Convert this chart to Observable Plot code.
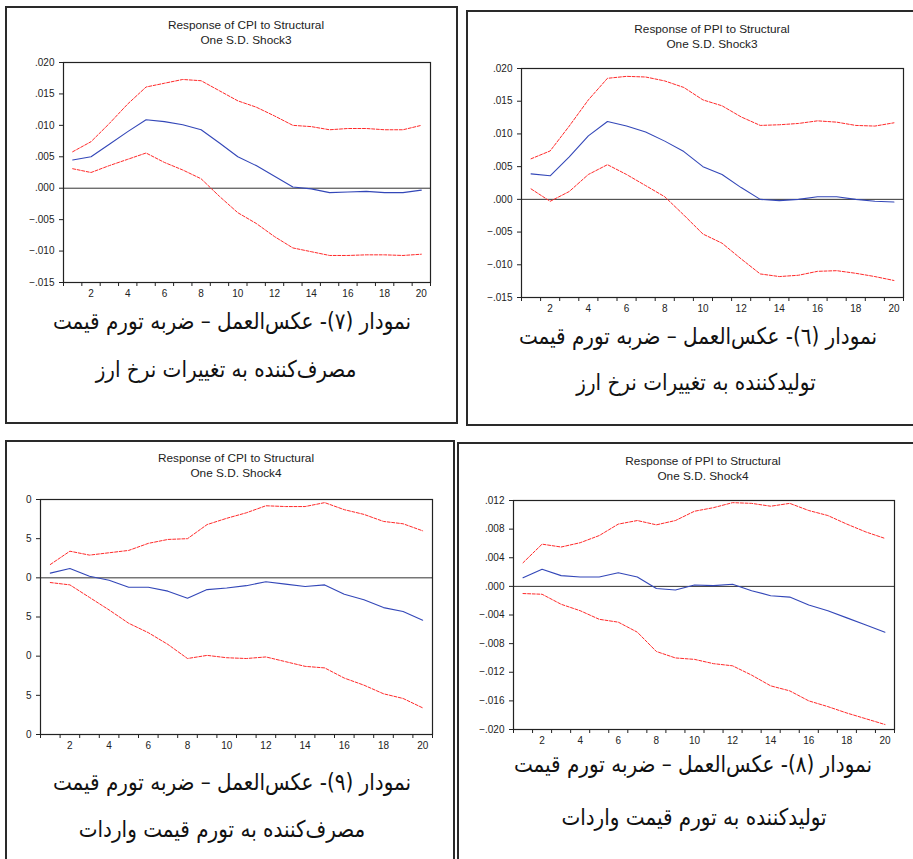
<!DOCTYPE html>
<html><head><meta charset="utf-8">
<script src="https://cdn.jsdelivr.net/npm/d3@7"></script>
<script src="https://cdn.jsdelivr.net/npm/@observablehq/plot@0.6"></script>
<style>
body{margin:0;background:#fff}
#page{position:relative;width:913px;height:859px;overflow:hidden;background:#fff}
.box{position:absolute;box-sizing:border-box;border:2px solid #2a2a2a}
.title{position:absolute;font-family:"Liberation Sans",Arial,sans-serif;font-size:11.8px;line-height:14.5px;color:#222;text-align:center;white-space:nowrap;transform:translateX(-50%)}
.cap{position:absolute;font-family:"DejaVu Sans",sans-serif;direction:rtl;white-space:nowrap;color:#111;line-height:1}
</style></head>
<body><div id="page"></div>
<script>
// ---------- data ----------
const periods = [1,2,3,4,5,6,7,8,9,10,11,12,13,14,15,16,17,18,19,20];

const cpiShock3Resp  = [0.0045,0.0050,0.0070,0.0090,0.0109,0.0106,0.0101,0.0093,0.0072,0.0050,0.0036,0.0019,0.0002,-0.0001,-0.0007,-0.0006,-0.0005,-0.0007,-0.0007,-0.0003];
const cpiShock3Upper = [0.0058,0.0074,0.0103,0.0134,0.0161,0.0167,0.0173,0.0171,0.0155,0.0139,0.0129,0.0115,0.0100,0.0098,0.0093,0.0095,0.0095,0.0093,0.0093,0.0100];
const cpiShock3Lower = [0.0031,0.0025,0.0036,0.0046,0.0056,0.0041,0.0029,0.0015,-0.0013,-0.0039,-0.0056,-0.0077,-0.0095,-0.0101,-0.0107,-0.0107,-0.0106,-0.0106,-0.0107,-0.0105];

const ppiShock3Resp  = [0.0039,0.0036,0.0065,0.0097,0.0119,0.0112,0.0103,0.0089,0.0073,0.0050,0.0038,0.0018,0.0000,-0.0002,0.0000,0.0004,0.0004,0.0000,-0.0003,-0.0004];
const ppiShock3Upper = [0.0062,0.0074,0.0112,0.0152,0.0185,0.0188,0.0187,0.0181,0.0171,0.0152,0.0143,0.0126,0.0113,0.0114,0.0116,0.0120,0.0118,0.0113,0.0112,0.0117];
const ppiShock3Lower = [0.0016,-0.0003,0.0012,0.0038,0.0053,0.0038,0.0021,0.0004,-0.0024,-0.0053,-0.0067,-0.0091,-0.0114,-0.0118,-0.0116,-0.0110,-0.0109,-0.0113,-0.0118,-0.0124];

const cpiShock4Resp  = [0.0006,0.0012,0.0002,-0.0003,-0.0012,-0.0012,-0.0017,-0.0026,-0.0015,-0.0013,-0.0010,-0.0005,-0.0008,-0.0011,-0.0009,-0.0021,-0.0028,-0.0038,-0.0043,-0.0054];
const cpiShock4Upper = [0.0017,0.0034,0.0029,0.0032,0.0035,0.0044,0.0049,0.0050,0.0068,0.0076,0.0083,0.0092,0.0091,0.0091,0.0096,0.0087,0.0081,0.0072,0.0069,0.0060];
const cpiShock4Lower = [-0.0006,-0.0009,-0.0025,-0.0041,-0.0058,-0.0070,-0.0085,-0.0103,-0.0099,-0.0102,-0.0103,-0.0101,-0.0107,-0.0113,-0.0115,-0.0128,-0.0137,-0.0148,-0.0154,-0.0166];

const ppiShock4Resp  = [0.0012,0.0024,0.0015,0.0013,0.0013,0.0019,0.0013,-0.0003,-0.0005,0.0002,0.0001,0.0003,-0.0006,-0.0013,-0.0015,-0.0026,-0.0034,-0.0044,-0.0054,-0.0064];
const ppiShock4Upper = [0.0033,0.0059,0.0055,0.0061,0.0071,0.0087,0.0092,0.0086,0.0092,0.0105,0.0110,0.0117,0.0116,0.0112,0.0116,0.0106,0.0099,0.0087,0.0076,0.0067];
const ppiShock4Lower = [-0.0010,-0.0011,-0.0025,-0.0034,-0.0046,-0.0050,-0.0064,-0.0091,-0.0100,-0.0102,-0.0108,-0.0111,-0.0124,-0.0139,-0.0146,-0.0160,-0.0168,-0.0177,-0.0185,-0.0193];

const xLabelTicks = [2,4,6,8,10,12,14,16,18,20];
const xTickMarks = [0.5,1.5,2.5,3.5,4.5,5.5,6.5,7.5,8.5,9.5,10.5,11.5,12.5,13.5,14.5,15.5,16.5,17.5,18.5,19.5,20.5];
const yTicksShock3 = [-0.015,-0.010,-0.005,0,0.005,0.010,0.015,0.020];
const yTicksCpi4 = [-0.020,-0.015,-0.010,-0.005,0,0.005,0.010];
const yLabelsCpi4 = ["0","5","0","5","0","5","0"]; // labels as they appear (clipped)
const yTicksPpi4 = [-0.020,-0.016,-0.012,-0.008,-0.004,0,0.004,0.008,0.012];

const titles = [
  ["Response of CPI to Structural","One S.D. Shock3"],
  ["Response of PPI to Structural","One S.D. Shock3"],
  ["Response of CPI to Structural","One S.D. Shock4"],
  ["Response of PPI to Structural","One S.D. Shock4"]
];
const captions = [
  ["نمودار (۷)- عکس\u200cالعمل – ضربه تورم قیمت","مصرف\u200cکننده به تغییرات نرخ ارز"],
  ["نمودار (٦)- عکس\u200cالعمل – ضربه تورم قیمت","تولیدکننده به تغییرات نرخ ارز"],
  ["نمودار (۹)- عکس\u200cالعمل – ضربه تورم قیمت","مصرف\u200cکننده به تورم قیمت واردات"],
  ["نمودار (۸)- عکس\u200cالعمل – ضربه تورم قیمت","تولیدکننده به تورم قیمت واردات"]
];

// ---------- layout ----------
const page = document.getElementById("page");
const boxes = [[5,6,453,418],[466,10,470,416],[5,440,450,440],[457,442,470,440]];
boxes.forEach(([l,t,w,h])=>{
  const d=document.createElement("div");d.className="box";
  Object.assign(d.style,{left:l+"px",top:t+"px",width:w+"px",height:h+"px"});
  page.appendChild(d);
});

const fmt3 = d => d3.format(".3f")(d).replace("0.", ".");

function makeChart({frame, yDomain, yTicks, yFormat, resp, upper, lower}) {
  const [fl, ft, fr, fb] = frame;
  const ml = 60, mr = 12, mt = 10, mb = 28;
  const rows = periods.map((p,i)=>({p, resp:resp[i], upper:upper[i], lower:lower[i]}));
  const svg = Plot.plot({
    width: fr-fl+ml+mr, height: fb-ft+mt+mb,
    marginLeft: ml, marginRight: mr, marginTop: mt, marginBottom: mb,
    style: {background:"transparent", fontFamily:'"Liberation Sans", Arial, sans-serif', fontSize:"10px", color:"#222", overflow:"visible"},
    x: {domain:[0.5,20.5]},
    y: {domain: yDomain},
    marks: [
      Plot.ruleY([0], {stroke:"#333", strokeWidth:1}),
      Plot.line(rows, {x:"p", y:"upper", stroke:"#ff2a2a", strokeWidth:1, strokeDasharray:"3,1.6"}),
      Plot.line(rows, {x:"p", y:"lower", stroke:"#ff2a2a", strokeWidth:1, strokeDasharray:"3,1.6"}),
      Plot.line(rows, {x:"p", y:"resp", stroke:"#3347b8", strokeWidth:1.1}),
      Plot.frame({stroke:"#222", strokeWidth:1.2}),
      Plot.axisY({ticks:yTicks, tickSize:4, tickPadding:5, tickFormat:yFormat, label:null, stroke:"#222"}),
      Plot.axisX({ticks:xTickMarks, tickSize:4, tickFormat:()=>"", label:null, stroke:"#222"}),
      Plot.axisX({ticks:xLabelTicks, tickSize:0, tickPadding:7, label:null})
    ]
  });
  svg.style.position="absolute"; svg.style.left=(fl-ml)+"px"; svg.style.top=(ft-mt)+"px";
  svg.style.maxWidth="none";
  page.appendChild(svg);
}

makeChart({frame:[63,62,430,282], yDomain:[-0.015,0.020], yTicks:yTicksShock3, yFormat:fmt3,
  resp:cpiShock3Resp, upper:cpiShock3Upper, lower:cpiShock3Lower});
makeChart({frame:[521,68,903,297], yDomain:[-0.015,0.020], yTicks:yTicksShock3, yFormat:fmt3,
  resp:ppiShock3Resp, upper:ppiShock3Upper, lower:ppiShock3Lower});
makeChart({frame:[40,499,432,734], yDomain:[-0.020,0.010], yTicks:yTicksCpi4,
  yFormat:d => yLabelsCpi4[yTicksCpi4.findIndex(v=>Math.abs(v-d)<1e-9)],
  resp:cpiShock4Resp, upper:cpiShock4Upper, lower:cpiShock4Lower});
makeChart({frame:[513,500,894,729], yDomain:[-0.020,0.012], yTicks:yTicksPpi4, yFormat:fmt3,
  resp:ppiShock4Resp, upper:ppiShock4Upper, lower:ppiShock4Lower});

// titles
const titlePos = [[246,18],[712,22],[236,451],[703,454]];
titles.forEach((t,i)=>{
  const d=document.createElement("div");d.className="title";
  d.style.left=titlePos[i][0]+"px";d.style.top=titlePos[i][1]+"px";
  d.innerHTML=t[0]+"<br>"+t[1];
  page.appendChild(d);
});

// captions: taller glyphs, horizontally condensed to the reference width
const capFont = 23;
const ctx=document.createElement("canvas").getContext("2d");
ctx.font=capFont+'px "DejaVu Sans"';
const capScale = 358/ctx.measureText(captions[0][0]).width;
const capPos = [[[232,321],[226,369]],[[698,336],[696,382]],[[232,782],[222,829]],[[693,764],[694,817]]];
captions.forEach((c,i)=>{
  c.forEach((line,j)=>{
    const d=document.createElement("div");d.className="cap";
    d.style.fontSize=capFont+"px";
    d.style.left=capPos[i][j][0]+"px";d.style.top=capPos[i][j][1]+"px";
    d.style.transform=`translate(-50%,-50%) scaleX(${capScale.toFixed(3)})`;
    d.textContent=line;
    page.appendChild(d);
  });
});
</script>
</body></html>
